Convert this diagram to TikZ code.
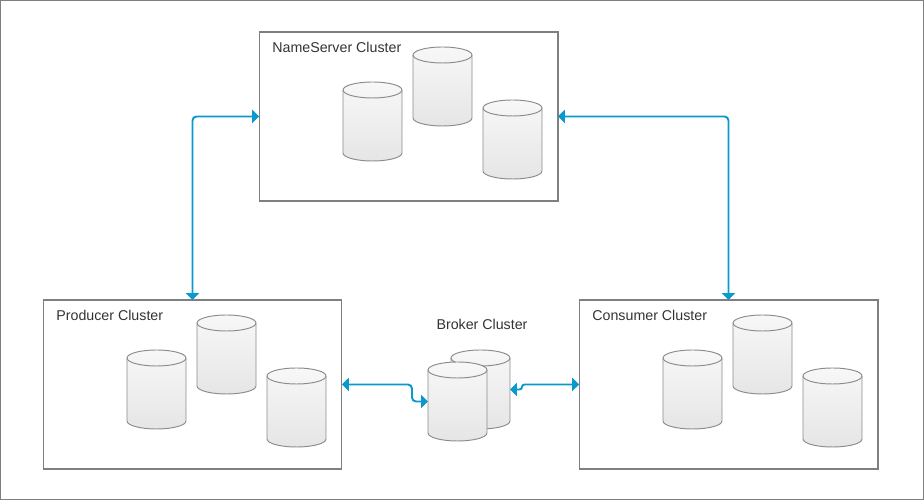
\documentclass[tikz,border=0pt]{standalone}
\usepackage{fontspec}
\setmainfont{Liberation Sans}
\usepackage{tikz}
\usetikzlibrary{positioning,shapes,arrows.meta,calc}
\definecolor{linkblue}{HTML}{0A99CC}
\definecolor{framegray}{HTML}{7F7F7F}
\definecolor{textgray}{HTML}{333333}

% one database cylinder: name, left x, top y
\newcommand{\dbcyl}[3]{%
  \node[dbbody] (#1) at (#2+29.5,#3-39.5) {};
  \draw[dbline, top color=gray!6, bottom color=gray!20]
    (#2,#3-8) -- (#2,#3-71)
    arc[start angle=180, end angle=360, x radius=29.5, y radius=8]
    -- (#2+59,#3-8)
    arc[start angle=0, end angle=180, x radius=29.5, y radius=8] -- cycle;
  \draw[dbline] (#2,#3-8) arc[start angle=180, end angle=360, x radius=29.5, y radius=8];
}

\begin{document}
\begin{tikzpicture}[x=0.02cm, y=0.02cm,
  cluster/.style={draw=framegray, line width=0.6pt, minimum width=5.98cm, minimum height=3.38cm, inner sep=0pt, outer sep=0pt},
  dbbody/.style={minimum width=1.18cm, minimum height=1.58cm, inner sep=0pt, outer sep=0pt},
  dbline/.style={draw=framegray!90, line width=0.55pt},
  label/.style={text=textgray, font=\fontsize{8.1}{9.5}\selectfont, inner sep=0pt},
  link/.style={draw=linkblue, line width=1.1pt, rounded corners=0.08cm, {Triangle[length=0.14cm, width=0.27cm]}-{Triangle[length=0.14cm, width=0.27cm]}}]
  \useasboundingbox (0,0) rectangle (924,500);
  \draw[framegray, line width=0.6pt] (0.5,0.5) rectangle (923.5,499.5);

  % clusters
  \node[cluster] (ns) at (408.5,383.5) {};
  \node[cluster] (prod) at (192.5,115.5) {};
  \node[cluster] (cons) at (728.5,115.5) {};
  \node[label, anchor=west] at ($(ns.north west)+(13,-15)$) {NameServer Cluster};
  \node[label, anchor=west] at ($(prod.north west)+(13,-15)$) {Producer Cluster};
  \node[label, anchor=west] at ($(cons.north west)+(13,-15)$) {Consumer Cluster};
  \node[label] at (482,176) {Broker Cluster};

  % nameserver
  \dbcyl{ns1}{343}{418}
  \dbcyl{ns2}{413}{453}
  \dbcyl{ns3}{483}{400}
  % producer
  \dbcyl{pr1}{127}{150}
  \dbcyl{pr2}{197}{185}
  \dbcyl{pr3}{267}{132}
  % consumer
  \dbcyl{cs1}{663}{150}
  \dbcyl{cs2}{733}{185}
  \dbcyl{cs3}{803}{132}
  % broker
  \dbcyl{bk2}{451}{150}
  \dbcyl{bk1}{428}{138}

  % links
  \draw[link] (prod.north) |- (ns.west);
  \draw[link] (ns.east) -| (cons.north);
  \draw[link] (prod.east) -- ++(70,0) |- (bk1.west);
  \draw[link, rounded corners=0.05cm] (bk2.east) -- ++(12,0) |- (cons.west);
\end{tikzpicture}
\end{document}
